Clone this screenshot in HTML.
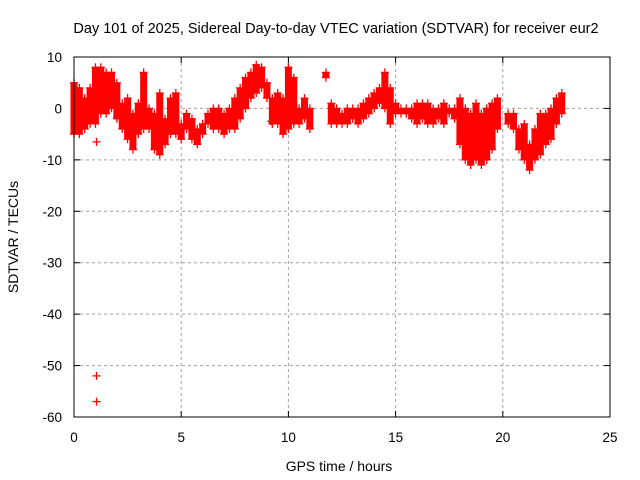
<!DOCTYPE html>
<html><head><meta charset="utf-8"><style>
body{margin:0;background:#fff}
svg{display:block;font-family:"Liberation Sans",sans-serif}
</style></head><body>
<svg id="chart" width="640" height="480">
<text x="336" y="33" font-size="14.5" text-anchor="middle">Day 101 of 2025, Sidereal Day-to-day VTEC variation (SDTVAR) for receiver eur2</text>
<g id="grid"></g>
<g id="ticks"></g>
<g id="marks"></g>
<rect x="74" y="57" width="536" height="360" fill="none" stroke="#000" stroke-width="1"/>
<text x="339" y="471" font-size="14" text-anchor="middle">GPS time / hours</text>
<text transform="translate(18,237) rotate(-90)" font-size="14" text-anchor="middle">SDTVAR / TECUs</text>
</svg>
<script>
const xTicks=[0,5,10,15,20,25];
const yTicks=[10,0,-10,-20,-30,-40,-50,-60];
const times=[0,0.25,0.5,0.75,1.0,1.25,1.5,1.75,2.0,2.25,2.5,2.75,3.0,3.25,3.5,3.75,4.0,4.25,4.5,4.75,5.0,5.25,5.5,5.75,6.0,6.25,6.5,6.75,7.0,7.25,7.5,7.75,8.0,8.25,8.5,8.75,9.0,9.25,9.5,9.75,10.0,10.25,10.5,10.75,11.0,11.75,12.0,12.25,12.5,12.75,13.0,13.25,13.5,13.75,14.0,14.25,14.5,14.75,15.0,15.25,15.5,15.75,16.0,16.25,16.5,16.75,17.0,17.25,17.5,17.75,18.0,18.25,18.5,18.75,19.0,19.25,19.5,19.75,20.25,20.5,20.75,21.0,21.25,21.5,21.75,22.0,22.25,22.5,22.75];
const hiVals=[5,4,2,4,8,8,7,7,5,1,2,-1,1,7,0,-1,3,-2,2,3,-3,-1,-2,-4,-3,-1,0,0,-1,0,2,4,6,7,8.5,8,5,2,3,2,8,6,0,2,0,7,1,0,-1,0,0,0,1,2,3,4,7,4,1,0,0,0,1,1,1,0,0,1,0,0,2,0,-1,1,-1,0,1,2,-1,-1,-4,-3,-7,-4,-1,-1,0,2,3];
const loVals=[-5,-5,-4,-3,-3,-1,-1,0,-2,-4,-6,-8,-5,-4,-4,-8,-9,-7,-5,-5,-6,-4,-6,-7,-5,-3,-4,-4,-5,-4,-4,-2,0,2,3,4,2,-3,-3,-5,-4,-3,-3,-2,-4,6,-3,-3,-3,-3,-2,-3,-2,-1,0,1,0,-3,-1,-1,-1,-2,-3,-2,-3,-3,-2,-3,-1,-2,-7,-10,-11,-10,-11,-10,-8,-4,-3,-4,-8,-10,-12,-10,-9,-7,-6,-3,-1];
const outTimes=[1.05,1.05,1.05,9.2];
const outVals=[-52,-57,-6.5,-2.5];

const X=v=>74+(v/25)*536;
const Y=v=>57+(10-v)/70*360;
const NS='http://www.w3.org/2000/svg';
const grid=document.getElementById('grid'),ticks=document.getElementById('ticks'),marks=document.getElementById('marks');
function mk(tag,attrs,parent){const e=document.createElementNS(NS,tag);for(const k in attrs)e.setAttribute(k,attrs[k]);parent.appendChild(e);return e;}
xTicks.forEach(t=>{
  const x=X(t);
  if(t>0&&t<25){const g=mk('line',{x1:x,x2:x,y1:57,y2:417,stroke:'#a0a0a0','stroke-dasharray':'3,3'},grid);
  
  }
  mk('line',{x1:x,x2:x,y1:417,y2:411,stroke:'#000'},ticks);mk('line',{x1:x,x2:x,y1:57,y2:63,stroke:'#000'},ticks);
  const l=mk('text',{x:x,y:442,'font-size':13.5,'text-anchor':'middle'},ticks);l.textContent=t;
  
  
});
yTicks.forEach(t=>{
  const y=Y(t);
  if(t<10&&t>-60){const g=mk('line',{x1:74,x2:610,y1:y,y2:y,stroke:'#a0a0a0','stroke-dasharray':'3,3'},grid);
  
  }
  mk('line',{x1:74,x2:80,y1:y,y2:y,stroke:'#000'},ticks);mk('line',{x1:610,x2:604,y1:y,y2:y,stroke:'#000'},ticks);
  const l=mk('text',{x:62,y:y+5,'font-size':13.5,'text-anchor':'end'},ticks);l.textContent=t;
  
  
});
function plus(x,y){
  const p=mk('path',{d:`M${x-4},${y}H${x+4}M${x},${y-4}V${y+4}`,stroke:'#f00','stroke-width':1.3,fill:'none'},marks);
  
  
}
times.forEach((t,i)=>{
  const x=X(t),y1=Y(hiVals[i]),y2=Y(loVals[i]);
  const r=mk('rect',{x:x-3.5,y:y1,width:7,height:Math.max(1,y2-y1),fill:'#f00'},marks);
  
  
  plus(x,y1);plus(x,y2);
});
outTimes.forEach((t,i)=>plus(X(t),Y(outVals[i])));
</script>
</body></html>
